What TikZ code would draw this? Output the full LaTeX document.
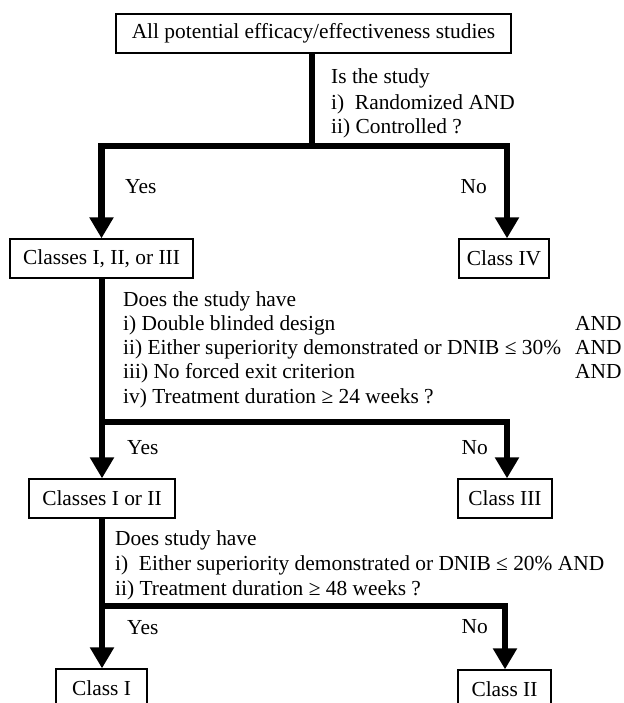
\documentclass[tikz,border=0pt]{standalone}
\usepackage{fontspec}
\setmainfont{Liberation Serif}
\usetikzlibrary{arrows.meta}
\newcommand\dgfont{\fontsize{21.4}{25}\selectfont}
\begin{document}
\begin{tikzpicture}[x=1pt,y=-1pt,
  box/.style={draw,line width=1.3pt,inner sep=0pt,minimum height=39pt,font=\dgfont},
  conn/.style={line width=6.5pt},
  arr/.style={line width=6.5pt,-{Triangle[width=23pt,length=21pt]}},
  lbl/.style={anchor=base west,inner sep=0pt,font=\dgfont},
  lble/.style={anchor=base east,inner sep=0pt,font=\dgfont},
]
\useasboundingbox (0,0) rectangle (623,703);
\clip (0,0) rectangle (623,703);
% boxes
\node[box,minimum width=395pt] (top) at (313.5,33.5) {All potential efficacy/effectiveness studies};
\node[box,minimum width=183pt] (c123) at (101.5,258.5) {Classes I, II, or III};
\node[box,minimum width=90pt] (c4) at (504,258.5) {Class IV};
\node[box,minimum width=146pt] (c12) at (102,498.5) {Classes I or II};
\node[box,minimum width=94pt] (c3) at (505,498.5) {Class III};
\node[box,minimum width=91pt] (c1) at (101.5,688.5) {Class I};
\node[box,minimum width=93pt] (c2) at (504.5,689.5) {Class II};
% junctions
\coordinate (j1) at (312,146);
\coordinate (j2) at (102,422);
\coordinate (j3) at (102,606);
\coordinate (r1) at (507,146);
\coordinate (r2) at (507,422);
\coordinate (r3) at (505,606);
% connectors
\draw[conn] (top.south -| j1) -- (j1);
\draw[arr] (j1) -| (c123.north);
\draw[arr] (j1) -| (c4.north -| r1);
\draw[conn] (c123.south -| j2) -- (j2);
\draw[arr] (j2) -- (c12.north -| j2);
\draw[arr] (j2) -| (c3.north -| r2);
\draw[conn] (c12.south -| j3) -- (j3);
\draw[arr] (j3) -- (c1.north -| j3);
\draw[arr] (j3) -| (c2.north -| r3);
% question 1
\node[lbl] (q1a) at (331,84) {Is the study};
\node[lbl] (q1b) at (331,110) {i)\ \ Randomized AND};
\node[lbl] (q1c) at (331,134) {ii) Controlled ?};
\node[lbl] (y1) at (125,194) {Yes};
\node[lble] (n1) at (487,194) {No};
% question 2
\node[lbl] (q2a) at (123,306) {Does the study have};
\node[lbl] (q2b) at (123,330) {i) Double blinded design};
\node[lbl] (q2c) at (123,354) {ii) Either superiority demonstrated or DNIB ≤ 30\%};
\node[lbl] (q2d) at (123,378) {iii) No forced exit criterion};
\node[lbl] (q2e) at (123,403) {iv) Treatment duration ≥ 24 weeks ?};
\node[lbl] (a2b) at (575,330) {AND};
\node[lbl] (a2c) at (575,354) {AND};
\node[lbl] (a2d) at (575,378) {AND};
\node[lbl] (y2) at (127,454) {Yes};
\node[lble] (n2) at (488,454) {No};
% question 3
\node[lbl] (q3a) at (115,545) {Does study have};
\node[lbl] (q3b) at (115,570) {i)\ \ Either superiority demonstrated or DNIB ≤ 20\% AND};
\node[lbl] (q3c) at (115,595) {ii) Treatment duration ≥ 48 weeks ?};
\node[lbl] (y3) at (127,634) {Yes};
\node[lble] (n3) at (488,633) {No};
\end{tikzpicture}
\end{document}
